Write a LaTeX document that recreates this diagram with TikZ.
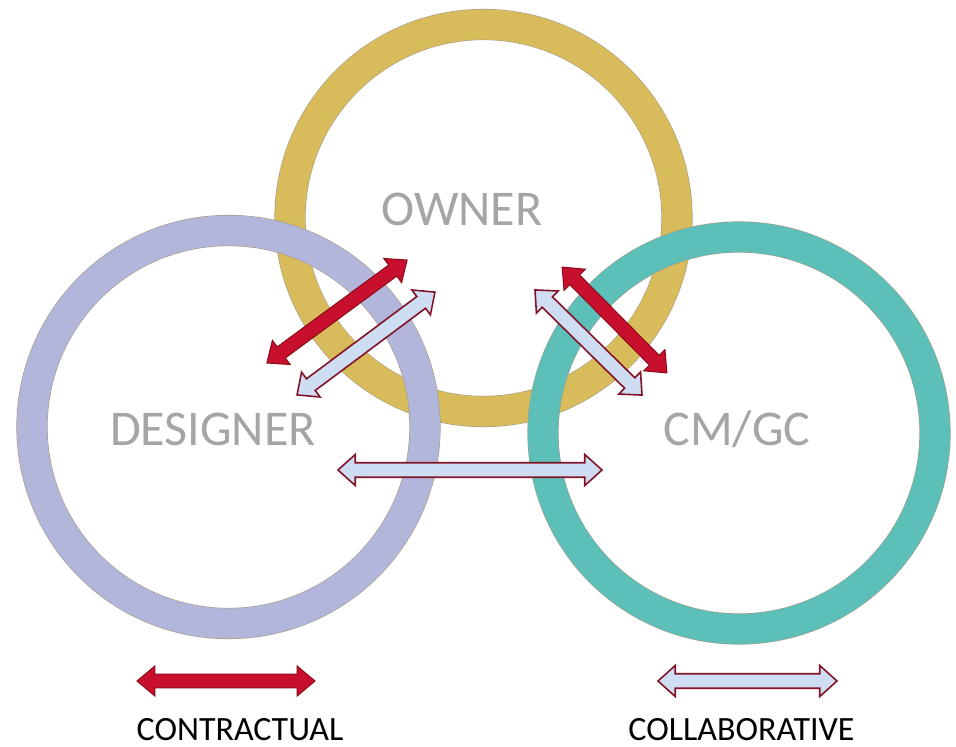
\documentclass[tikz,border=0pt]{standalone}
\usepackage{fontspec}
\setmainfont{Carlito}
\usetikzlibrary{shapes.arrows}
\definecolor{ownerc}{RGB}{216,188,92}
\definecolor{designc}{RGB}{177,182,218}
\definecolor{cmc}{RGB}{92,191,184}
\definecolor{ringline}{RGB}{165,155,135}
\definecolor{labelgray}{RGB}{165,165,165}
\definecolor{redfill}{RGB}{200,16,46}
\definecolor{redline}{RGB}{140,10,25}
\definecolor{bluefill}{RGB}{207,221,242}
\definecolor{maroonline}{RGB}{130,20,40}
\tikzset{
  ring/.style={circle, draw=ringline, line width=0.6pt, double distance=30pt, inner sep=0pt, outer sep=0pt},
  biglabel/.style={text=labelgray, font=\fontsize{50}{60}\selectfont, anchor=base, inner sep=0pt},
  legendlabel/.style={text=black, font=\fontsize{34}{40}\selectfont, anchor=base, inner sep=0pt},
  contract/.style={double arrow, fill=redfill, draw=redline, line width=1pt, inner xsep=0pt, inner ysep=5.5pt, minimum width=30pt, double arrow tip angle=80, double arrow head indent=0pt},
  collab/.style={double arrow, fill=bluefill, draw=maroonline, line width=1.6pt, inner xsep=0pt, inner ysep=5.5pt, minimum width=31pt, double arrow tip angle=84, double arrow head indent=0pt}
}
\begin{document}
\begin{tikzpicture}[x=1pt, y=-1pt]
\useasboundingbox[fill=white] (0,0) rectangle (956,747);
% rings
\node[ring, double=ownerc, minimum size=387pt] (ownerring) at (483.5,218) {};
\node[ring, double=designc, minimum size=393pt] (designring) at (228.5,427) {};
\node[ring, double=cmc, minimum size=392pt] (cmring) at (739,433) {};
% labels
\node[biglabel] (owner) at (462,225) {OWNER};
\node[biglabel] (designer) at (213,445) {DESIGNER};
\node[biglabel] (cmgc) at (737,445) {CM/GC};
% arrows
\node[contract, minimum height=174pt, rotate=36.3] (c1) at (337,311.5) {};
\node[collab, minimum height=172pt, rotate=36.7] (k1) at (366,343.5) {};
\node[contract, minimum height=149pt, rotate=-45.3] (c2) at (614.5,320) {};
\node[collab, minimum height=150pt, rotate=-44.5] (k2) at (588.5,342.5) {};
\node[collab, minimum height=264pt] (k3) at (470,470) {};
% legend
\node[contract, minimum height=178pt] (legc) at (226,681) {};
\node[collab, minimum height=179pt] (legk) at (747.5,681) {};
\node[legendlabel] (contractual) at (240,740) {CONTRACTUAL};
\node[legendlabel] (collaborative) at (741.5,740) {COLLABORATIVE};
\end{tikzpicture}
\end{document}
